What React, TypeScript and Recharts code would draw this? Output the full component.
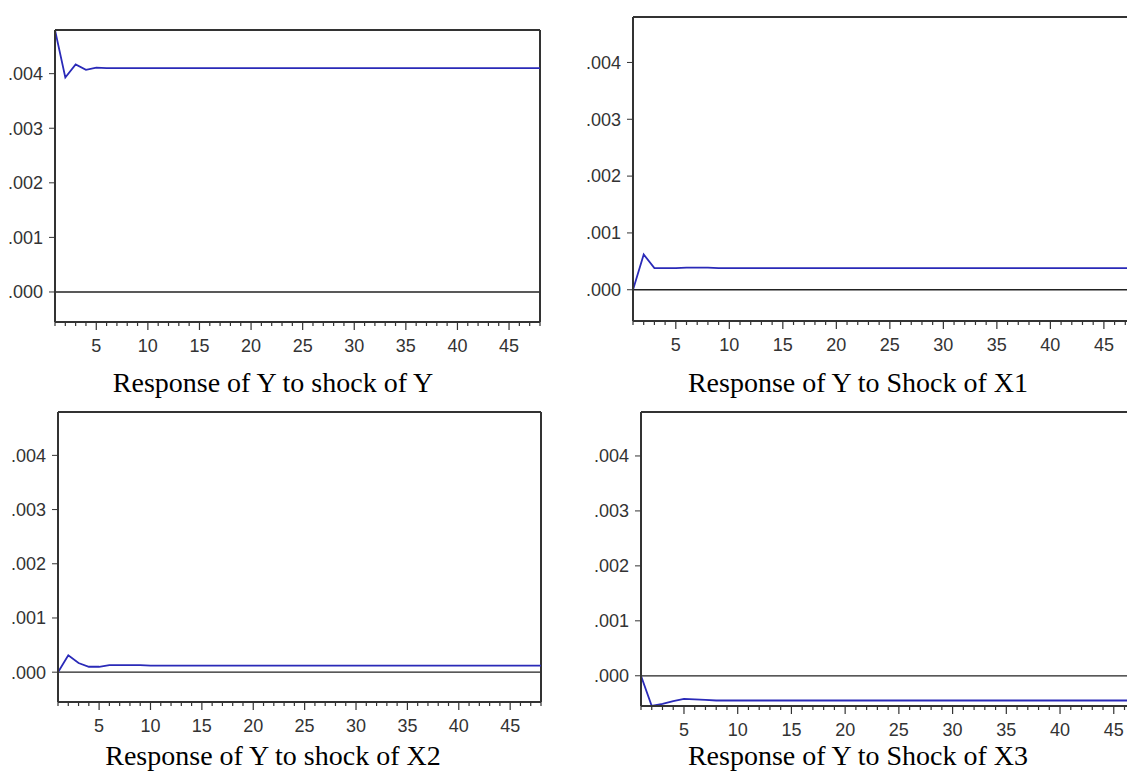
import { LineChart, Line, XAxis, YAxis, ReferenceLine } from 'recharts'

// impulse responses, periods 1..48
const periods = [
  1, 2, 3, 4, 5, 6, 7, 8, 9, 10, 11, 12, 13, 14, 15, 16, 17, 18, 19, 20, 21, 22, 23, 24,
  25, 26, 27, 28, 29, 30, 31, 32, 33, 34, 35, 36, 37, 38, 39, 40, 41, 42, 43, 44, 45, 46, 47, 48,
]

const shockY = [
  0.0048, 0.00393, 0.00417, 0.00407, 0.00411, 0.0041, 0.0041, 0.0041, 0.0041, 0.0041, 0.0041, 0.0041,
  0.0041, 0.0041, 0.0041, 0.0041, 0.0041, 0.0041, 0.0041, 0.0041, 0.0041, 0.0041, 0.0041, 0.0041,
  0.0041, 0.0041, 0.0041, 0.0041, 0.0041, 0.0041, 0.0041, 0.0041, 0.0041, 0.0041, 0.0041, 0.0041,
  0.0041, 0.0041, 0.0041, 0.0041, 0.0041, 0.0041, 0.0041, 0.0041, 0.0041, 0.0041, 0.0041, 0.0041,
]

const shockX1 = [
  0, 0.00062, 0.00038, 0.00038, 0.00038, 0.00039, 0.00039, 0.00039, 0.00038, 0.00038, 0.00038, 0.00038,
  0.00038, 0.00038, 0.00038, 0.00038, 0.00038, 0.00038, 0.00038, 0.00038, 0.00038, 0.00038, 0.00038, 0.00038,
  0.00038, 0.00038, 0.00038, 0.00038, 0.00038, 0.00038, 0.00038, 0.00038, 0.00038, 0.00038, 0.00038, 0.00038,
  0.00038, 0.00038, 0.00038, 0.00038, 0.00038, 0.00038, 0.00038, 0.00038, 0.00038, 0.00038, 0.00038, 0.00038,
]

const shockX2 = [
  0, 0.00031, 0.00017, 0.0001, 0.0001, 0.00013, 0.00013, 0.00013, 0.00013, 0.00012, 0.00012, 0.00012,
  0.00012, 0.00012, 0.00012, 0.00012, 0.00012, 0.00012, 0.00012, 0.00012, 0.00012, 0.00012, 0.00012, 0.00012,
  0.00012, 0.00012, 0.00012, 0.00012, 0.00012, 0.00012, 0.00012, 0.00012, 0.00012, 0.00012, 0.00012, 0.00012,
  0.00012, 0.00012, 0.00012, 0.00012, 0.00012, 0.00012, 0.00012, 0.00012, 0.00012, 0.00012, 0.00012, 0.00012,
]

const shockX3 = [
  0, -0.00055, -0.00051, -0.00046, -0.00042, -0.00043, -0.00044, -0.00045, -0.00045, -0.00045, -0.00045, -0.00045,
  -0.00045, -0.00045, -0.00045, -0.00045, -0.00045, -0.00045, -0.00045, -0.00045, -0.00045, -0.00045, -0.00045, -0.00045,
  -0.00045, -0.00045, -0.00045, -0.00045, -0.00045, -0.00045, -0.00045, -0.00045, -0.00045, -0.00045, -0.00045, -0.00045,
  -0.00045, -0.00045, -0.00045, -0.00045, -0.00045, -0.00045, -0.00045, -0.00045, -0.00045, -0.00045, -0.00045, -0.00045,
]

const yTicks = [0, 0.001, 0.002, 0.003, 0.004]
const yDomain = [-0.00055, 0.0048]

const data = periods.map((p, i) => ({
  period: p,
  y: shockY[i],
  x1: shockX1[i],
  x2: shockX2[i],
  x3: shockX3[i],
}))

const axisColor = '#333'
const tickFont = 'Liberation Sans, Arial, sans-serif'

function PeriodTick({ x, y, payload }: any) {
  const major = payload.value % 5 === 0
  return (
    <g>
      <line x1={x} y1={y} x2={x} y2={y + (major ? 8 : 4)} stroke={axisColor} strokeWidth={1.2} />
      {major && (
        <text x={x} y={y + 30} textAnchor="middle" fill={axisColor} fontSize={18} fontFamily={tickFont}>
          {payload.value}
        </text>
      )}
    </g>
  )
}

const fmtY = (v: number) => v.toFixed(3).replace(/^0/, '')

function Panel({ left, top, width, height, axisW, mTop, mRight, dataKey }: any) {
  return (
    <div style={{ position: 'absolute', left, top }}>
      <LineChart width={width} height={height} data={data} margin={{ top: mTop, right: mRight, left: 0, bottom: 0 }}>
        <XAxis
          dataKey="period"
          type="number"
          domain={[1, 48]}
          ticks={periods}
          interval={0}
          allowDataOverflow
          height={36}
          tickSize={0}
          tickMargin={0}
          tickLine={false}
          tick={<PeriodTick />}
          axisLine={{ stroke: axisColor, strokeWidth: 2 }}
        />
        <YAxis
          type="number"
          domain={yDomain}
          ticks={yTicks}
          allowDataOverflow
          width={axisW}
          tickFormatter={fmtY}
          tickSize={6}
          tickMargin={6}
          tickLine={{ stroke: axisColor }}
          axisLine={{ stroke: axisColor, strokeWidth: 2 }}
          tick={{ fill: axisColor, fontSize: 18, fontFamily: tickFont }}
        />
        <ReferenceLine y={0} stroke="#222" strokeWidth={1.3} />
        <ReferenceLine y={0.0048} stroke={axisColor} strokeWidth={2} />
        <ReferenceLine x={48} stroke={axisColor} strokeWidth={2} />
        <Line type="linear" dataKey={dataKey} stroke="#2a2ab8" strokeWidth={1.8} dot={false} isAnimationActive={false} />
      </LineChart>
    </div>
  )
}

const titleStyle = {
  position: 'absolute' as const,
  width: 560,
  textAlign: 'center' as const,
  fontFamily: 'Liberation Serif, Times New Roman, serif',
  fontSize: 28,
  lineHeight: '28px',
  color: '#000',
  whiteSpace: 'nowrap' as const,
}

export default function App() {
  return (
    <div style={{ position: 'absolute', left: 0, top: 0, width: 1127, height: 774, overflow: 'hidden', background: '#fff' }}>
      <Panel left={0} top={0} width={560} height={358} axisW={55} mTop={30} mRight={20} dataKey="y" />
      <Panel left={560} top={0} width={600} height={357} axisW={73} mTop={17} mRight={24} dataKey="x1" />
      <Panel left={0} top={382} width={560} height={356} axisW={58} mTop={30} mRight={19} dataKey="x2" />
      <Panel left={560} top={382} width={600} height={360} axisW={81} mTop={30} mRight={14} dataKey="x3" />
      <div style={{ ...titleStyle, left: -7, top: 369 }}>Response of Y to shock of Y</div>
      <div style={{ ...titleStyle, left: 578, top: 369 }}>Response of Y to Shock of X1</div>
      <div style={{ ...titleStyle, left: -7, top: 742 }}>Response of Y to shock of X2</div>
      <div style={{ ...titleStyle, left: 578, top: 742 }}>Response of Y to Shock of X3</div>
    </div>
  )
}
